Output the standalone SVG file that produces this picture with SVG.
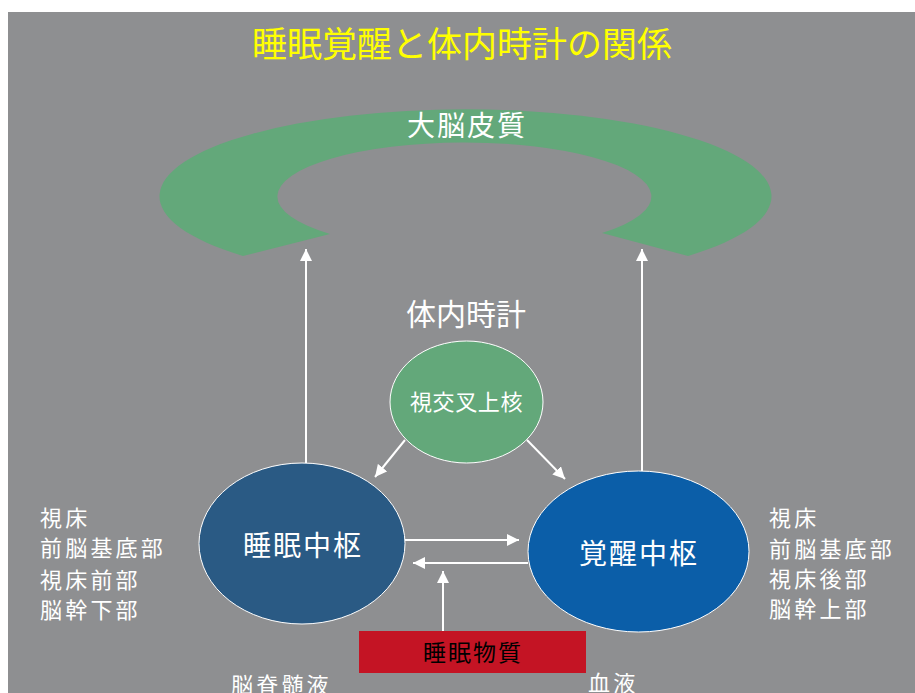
<svg xmlns="http://www.w3.org/2000/svg" width="915" height="693" viewBox="0 0 915 693">
<defs>
<marker id="ah" markerUnits="userSpaceOnUse" markerWidth="12" markerHeight="12" refX="12" refY="6" orient="auto">
<path d="M0,0 L12,6 L0,12 z" fill="#ffffff"/>
</marker>
<style>
text{font-family:"Noto Sans CJK JP","Noto Sans CJK SC",sans-serif;fill:#ffffff}
.lbl{font-size:22px;letter-spacing:3.2px}
.ctr{font-size:28px;letter-spacing:2px;text-anchor:middle}
.conn line{stroke:#ffffff;stroke-width:2;marker-end:url(#ah)}
</style>
</defs>
<rect x="0" y="0" width="915" height="693" fill="#ffffff"/>
<rect x="8" y="12" width="907" height="681" fill="#8e8f91"/>
<text x="462" y="57" style="font-size:35px;fill:#ffff00;text-anchor:middle">睡眠覚醒と体内時計の関係</text>
<g id="cortex">
<path d="M243,256 A306,87 0 1 1 688,256 L602,233 A187,54 0 1 0 330,234 Z" fill="#63a87a"/>
<text x="467" y="136" class="ctr">大脳皮質</text>
</g>
<g id="clock-label">
<text x="466" y="325" style="font-size:30px;text-anchor:middle">体内時計</text>
</g>
<g id="scn">
<ellipse cx="466.5" cy="402" rx="76.5" ry="61" fill="#63a87a" stroke="#ffffff" stroke-width="1"/>
<text x="466.5" y="410" style="font-size:22px;text-anchor:middle;letter-spacing:0.6px">視交叉上核</text>
</g>
<g id="sleep">
<ellipse cx="302" cy="543.5" rx="103" ry="80.5" fill="#2a5a84" stroke="#ffffff" stroke-width="1"/>
<text x="303" y="556" class="ctr">睡眠中枢</text>
</g>
<g id="wake">
<ellipse cx="638.5" cy="551.5" rx="110.5" ry="80.5" fill="#0b5ea8" stroke="#ffffff" stroke-width="1"/>
<text x="639" y="564" class="ctr">覚醒中枢</text>
</g>
<g id="sleep-substance">
<rect x="359" y="631" width="227" height="42" fill="#c41424"/>
<text x="473" y="661" style="font-size:23px;letter-spacing:2px;text-anchor:middle;fill:#000000">睡眠物質</text>
</g>
<g id="left-labels">
<text x="40" y="526" class="lbl">視床</text>
<text x="40" y="556" class="lbl">前脳基底部</text>
<text x="40" y="588" class="lbl">視床前部</text>
<text x="40" y="618" class="lbl">脳幹下部</text>
</g>
<g id="right-labels">
<text x="769" y="526" class="lbl">視床</text>
<text x="769" y="557" class="lbl">前脳基底部</text>
<text x="769" y="587" class="lbl">視床後部</text>
<text x="769" y="617" class="lbl">脳幹上部</text>
</g>
<g id="csf"><text x="231" y="693" class="lbl">脳脊髄液</text></g>
<g id="blood"><text x="588" y="691" class="lbl">血液</text></g>
<g class="conn" id="connectors">
<line x1="306" y1="463" x2="306" y2="249"/>
<line x1="642" y1="471" x2="642" y2="249"/>
<line x1="405" y1="440" x2="375" y2="477"/>
<line x1="527" y1="440" x2="565" y2="479"/>
<line x1="405" y1="540" x2="519" y2="540"/>
<line x1="528" y1="563" x2="413" y2="563"/>
<line x1="443" y1="631" x2="443" y2="571"/>
</g>
</svg>
